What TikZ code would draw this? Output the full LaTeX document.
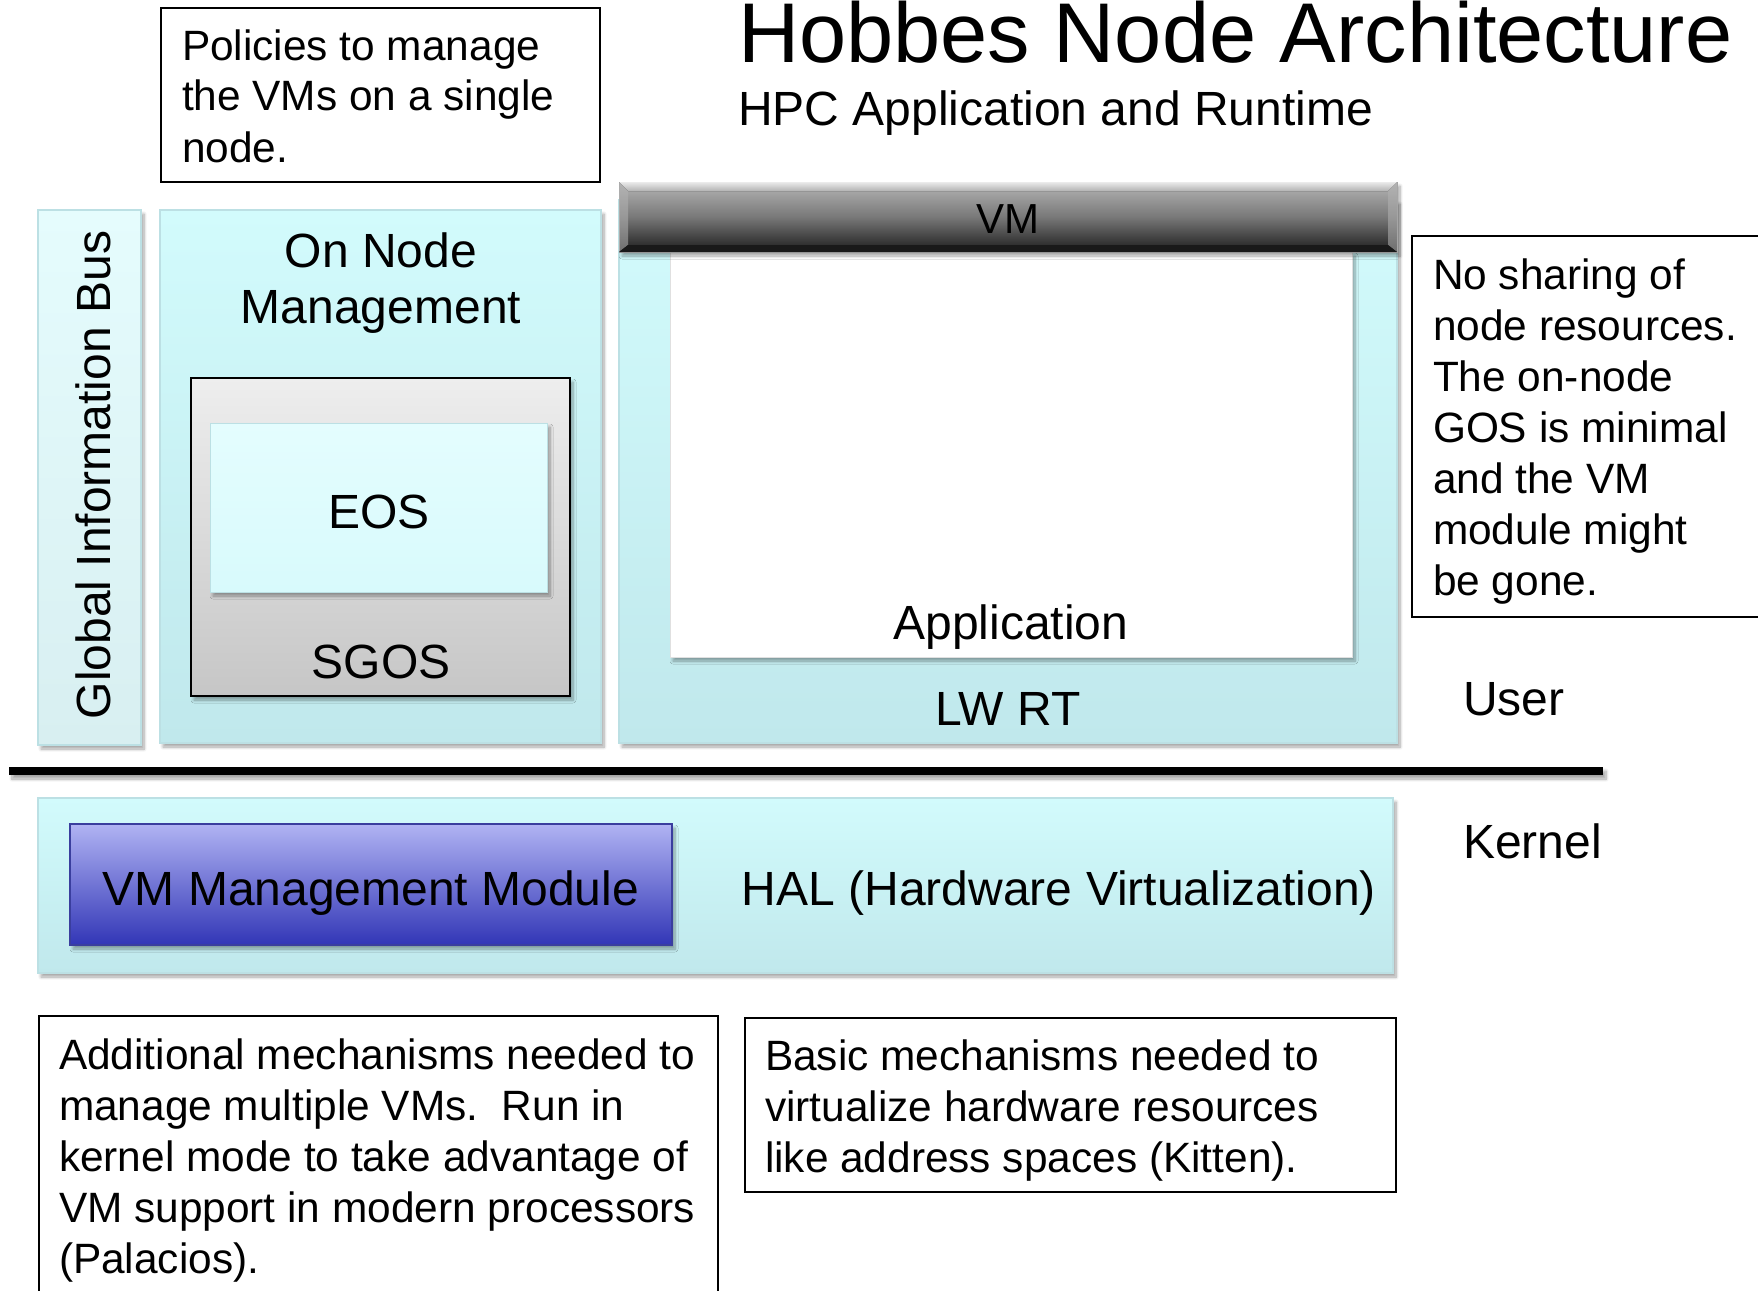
\documentclass[tikz,border=0pt]{standalone}
\usepackage{fontspec}
\setmainfont{Liberation Sans}
\usetikzlibrary{shadows.blur}

% palette
\definecolor{layerTop}{RGB}{210,251,252}
\definecolor{layerBot}{RGB}{192,232,236}
\definecolor{layerEdge}{RGB}{188,224,228}
\definecolor{busTop}{RGB}{229,252,253}
\definecolor{busBot}{RGB}{216,239,241}
\definecolor{eosTop}{RGB}{228,253,254}
\definecolor{eosBot}{RGB}{216,250,252}
\definecolor{sgosTop}{RGB}{238,238,238}
\definecolor{sgosBot}{RGB}{198,198,198}
\definecolor{vmmTop}{RGB}{176,179,243}
\definecolor{vmmBot}{RGB}{50,54,182}
\definecolor{vmmEdge}{RGB}{58,62,158}
\definecolor{barTop}{RGB}{182,182,182}
\definecolor{barMid}{RGB}{120,120,120}
\definecolor{barBot}{RGB}{28,28,28}

% type sizes
\newcommand\fTitle{\fontsize{84.8}{100}\selectfont}
\newcommand\fSub{\fontsize{48}{56}\selectfont}
\newcommand\fLabel{\fontsize{48}{56}\selectfont}
\newcommand\fVM{\fontsize{42}{50}\selectfont}
\newcommand\fNote{\fontsize{42.4}{51}\selectfont}
\newcommand\leftlines[1]{\begin{tabular}[t]{@{}l@{}}#1\end{tabular}}
\newcommand\midlines[1]{\begin{tabular}[t]{@{}c@{}}#1\end{tabular}}

\tikzset{
  every node/.style={inner sep=0pt, outer sep=0pt},
  softshadow/.style={blur shadow={shadow xshift=3pt, shadow yshift=-4pt,
      shadow opacity=35, shadow blur steps=8, shadow blur radius=3pt}},
  panel/.style={rectangle, anchor=north west},
  layer/.style={panel, draw=layerEdge, line width=1.2pt,
      top color=layerTop, bottom color=layerBot, softshadow},
  busbox/.style={panel, draw=layerEdge, line width=1.2pt,
      top color=busTop, bottom color=busBot, softshadow},
  eosbox/.style={panel, draw=layerEdge, line width=1pt,
      top color=eosTop, bottom color=eosBot, softshadow},
  sgosbox/.style={panel, draw=black, line width=2.4pt,
      top color=sgosTop, bottom color=sgosBot, softshadow},
  appbox/.style={panel, fill=white, draw=black!12, line width=0.8pt, softshadow},
  vmmbox/.style={panel, draw=vmmEdge, line width=1.2pt,
      top color=vmmTop, bottom color=vmmBot, softshadow},
  notebox/.style={panel, draw=black, line width=2pt, fill=white},
  lbl/.style={font=\fLabel, anchor=base},
  notetext/.style={font=\fNote, anchor=base west},
}

\begin{document}
\begin{tikzpicture}[x=1pt, y=-1pt]
\useasboundingbox (0,0) rectangle (1758,1290);

% ---- user space ----
\node[busbox, minimum width=103pt, minimum height=535pt] (bus) at (38,210) {};
\node[layer, minimum width=441pt, minimum height=533pt] (onm) at (160,210) {};
\node[sgosbox, minimum width=379pt, minimum height=318pt] (sgos) at (191,378) {};
\node[eosbox, minimum width=337pt, minimum height=169pt] (eos) at (210,423) {};
\node[layer, minimum width=778pt, minimum height=543pt] (lwrt) at (619,200) {};
\node[appbox, minimum width=682pt, minimum height=405pt] (app) at (670,252) {};

% VM title bar with bevelled edges
\node[panel, minimum width=778pt, minimum height=70pt, draw=black!35, line width=0.8pt,
      top color=barTop, bottom color=barBot, middle color=barMid, softshadow] (vmbar) at (619,182) {};
\fill[top color=white!92!black, bottom color=black!30]
  (vmbar.north west) -- (vmbar.north east) -- ([xshift=-9pt,yshift=-9pt]vmbar.north east)
  -- ([xshift=9pt,yshift=-9pt]vmbar.north west) -- cycle;
\fill[black!30, opacity=0.55]
  (vmbar.north west) -- ([xshift=9pt,yshift=-9pt]vmbar.north west)
  -- ([xshift=9pt,yshift=7pt]vmbar.south west) -- (vmbar.south west) -- cycle;
\fill[black!30, opacity=0.55]
  (vmbar.north east) -- ([xshift=-9pt,yshift=-9pt]vmbar.north east)
  -- ([xshift=-9pt,yshift=7pt]vmbar.south east) -- (vmbar.south east) -- cycle;
\fill[black!90]
  (vmbar.south west) -- ([xshift=9pt,yshift=7pt]vmbar.south west)
  -- ([xshift=-9pt,yshift=7pt]vmbar.south east) -- (vmbar.south east) -- cycle;

% user / kernel divider
\node[panel, fill=black, minimum width=1594pt, minimum height=8pt, softshadow] (divider) at (9,767) {};

% ---- kernel space ----
\node[layer, minimum width=1355pt, minimum height=175pt] (hal) at (38,798) {};
\node[vmmbox, minimum width=602pt, minimum height=121pt] (vmm) at (70,824) {};

% ---- notes ----
\node[notebox, minimum width=439pt, minimum height=174pt] (polbox) at (161,8) {};
\node[notebox, minimum width=360pt, minimum height=381pt] (sharebox) at (1412,236) {};
\node[notebox, minimum width=679pt, minimum height=300pt] (palbox) at (39,1016) {};
\node[notebox, minimum width=651pt, minimum height=174pt] (kitbox) at (745,1018) {};

% ---- text ----
\node[font=\fTitle, anchor=base west] (title) at (738,63) {Hobbes Node Architecture};
\node[font=\fSub, anchor=base west] (subtitle) at (738,125) {HPC Application and Runtime};

\node[lbl, rotate=90] (bustext) at (110,475) {Global Information Bus};
\node[lbl] (onmtext) at (381,267) {\midlines{On Node\\Management}};
\node[lbl] (eostext) at (379,528) {EOS};
\node[lbl] (sgostext) at (381,678) {SGOS};
\node[font=\fVM, anchor=base] (vmtext) at (1008,233) {VM};
\node[lbl] (apptext) at (1011,639) {Application};
\node[lbl] (lwrttext) at (1008,725) {LW RT};
\node[lbl, anchor=base west] (usertext) at (1463,715) {User};
\node[lbl, anchor=base west] (kerneltext) at (1463,858) {Kernel};
\node[lbl] (vmmtext) at (371,905) {VM Management Module};
\node[lbl] (haltext) at (1059,905) {HAL (Hardware Virtualization)};

\node[notetext] (poltext) at (182,60)
  {\leftlines{Policies to manage\\the VMs on a single\\node.}};
\node[notetext] (sharetext) at (1433,289)
  {\leftlines{No sharing of\\node resources.\\The on-node\\GOS is minimal\\and the VM\\module might\\be gone.}};
\node[notetext] (paltext) at (59,1069)
  {\leftlines{Additional mechanisms needed to\\manage multiple VMs.\ \ Run in\\kernel mode to take advantage of\\VM support in modern processors\\(Palacios).}};
\node[notetext] (kittext) at (765,1070)
  {\leftlines{Basic mechanisms needed to\\virtualize hardware resources\\like address spaces (Kitten).}};
\end{tikzpicture}
\end{document}
